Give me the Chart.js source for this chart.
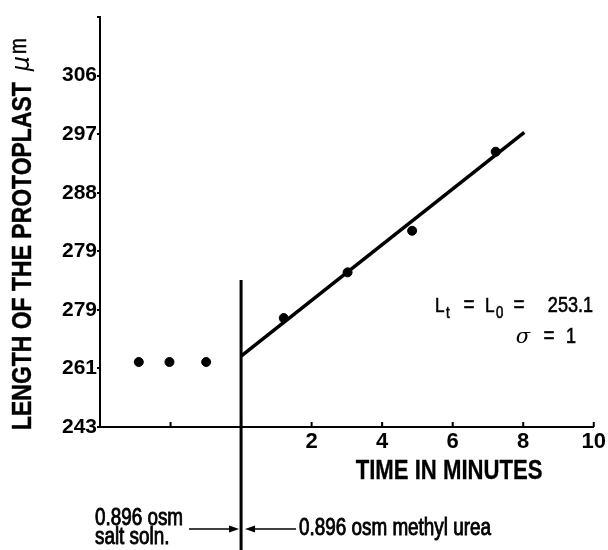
<!DOCTYPE html>
<html>
<head>
<meta charset="utf-8">
<script src="https://cdn.jsdelivr.net/npm/chart.js@4.4.1/dist/chart.umd.min.js"></script>
<style>
  html, body { margin: 0; padding: 0; background: #fff; }
  #wrap { width: 608px; height: 550px; }
</style>
</head>
<body>
<div id="wrap"><canvas id="chart" width="608" height="550"></canvas></div>
<script>
// tick labels of the original figure (evenly spaced, printed as-is)
const yTickLabels = ['243', '261', '279', '279', '288', '297', '306', ''];
const xTickValues = [-4, -2, 0, 2, 4, 6, 8, 10];
const xTickLabels = ['', '', '', '2', '4', '6', '8', '10'];

// values are in tick-step units of the y axis (0 = 243, 1 = 261, ...)
const saltTimes = [-2.9, -2.03, -0.99];
const saltLengths = [1.11, 1.11, 1.11];
const ureaTimes = [1.21, 3.02, 4.85, 7.22];
const ureaLengths = [1.86, 2.64, 3.35, 4.70];
const fitTimes = [0, 8.03];
const fitLengths = [1.21, 5.03];
const switchTimes = [0, 0];
const switchLengths = [2.51, -2.2];

const FONT = '"Liberation Sans", Arial, sans-serif';
const SQ = 0.82; // horizontal squeeze to mimic the narrow typeface

function pts(xs, ys) {
  return xs.map((x, i) => ({ x: x, y: ys[i] }));
}

// draw text squeezed horizontally, returns drawn width
function narrow(ctx, txt, x, y, font, align, heavy) {
  ctx.save();
  ctx.font = font;
  const w = ctx.measureText(txt).width * SQ;
  let left = x;
  if (align === 'center') left = x - w / 2;
  if (align === 'right') left = x - w;
  ctx.translate(left, y);
  ctx.scale(SQ, 1);
  ctx.textAlign = 'left';
  ctx.fillText(txt, 0, 0);
  if (heavy) {
    ctx.lineWidth = heavy;
    ctx.strokeText(txt, 0, 0);
  }
  ctx.restore();
  return w;
}

function arrow(ctx, x1, x2, y) {
  const dir = Math.sign(x2 - x1);
  ctx.beginPath();
  ctx.moveTo(x1, y);
  ctx.lineTo(x2 - dir * 8, y);
  ctx.stroke();
  ctx.beginPath();
  ctx.moveTo(x2, y);
  ctx.lineTo(x2 - dir * 10, y - 3.5);
  ctx.lineTo(x2 - dir * 10, y + 3.5);
  ctx.closePath();
  ctx.fill();
}

const extras = {
  id: 'extras',
  afterDraw(chart) {
    const ctx = chart.ctx;
    const xs = chart.scales.x;
    const ys = chart.scales.y;
    const axisY = ys.getPixelForValue(0);
    const x0 = xs.getPixelForValue(0);
    ctx.save();
    ctx.fillStyle = '#000';
    ctx.strokeStyle = '#000';

    // small inward ticks on the time axis
    ctx.lineWidth = 2;
    xTickValues.forEach(v => {
      if (v <= -4) return;
      const px = xs.getPixelForValue(v);
      ctx.beginPath();
      ctx.moveTo(px, axisY);
      ctx.lineTo(px, axisY - 5);
      ctx.stroke();
    });

    // y axis title, rotated
    ctx.save();
    ctx.translate(23, 430);
    ctx.rotate(-Math.PI / 2);
    ctx.textBaseline = 'middle';
    let w = narrow(ctx, 'LENGTH OF THE PROTOPLAST', 0, 0, 'bold 28px ' + FONT, 'left', 0.4) + 11;
    ctx.font = 'italic 24px "DejaVu Sans", sans-serif';
    ctx.fillText('\u03bc', w, 0);
    w += ctx.measureText('\u03bc').width + 2;
    narrow(ctx, 'm', w, -3, '23px ' + FONT, 'left', 0.5);
    ctx.restore();

    // x axis title
    ctx.textBaseline = 'middle';
    narrow(ctx, 'TIME IN MINUTES', xs.getPixelForValue(5.9), 472, 'bold 27px ' + FONT, 'center', 0.3);

    // equation
    ctx.textBaseline = 'alphabetic';
    const big = '21px ' + FONT;
    const sub = '16px ' + FONT;
    const eq = '23px ' + FONT;
    narrow(ctx, 'L', 435, 312, big, 'left', 0.6);
    narrow(ctx, 't', 446, 318, sub, 'left', 0.6);
    narrow(ctx, '=', 469, 312, eq, 'center', 0.6);
    narrow(ctx, 'L', 485, 312, big, 'left', 0.6);
    narrow(ctx, '0', 496, 318, sub, 'left', 0.6);
    narrow(ctx, '=', 519, 312, eq, 'center', 0.6);
    narrow(ctx, '253.1', 593, 312, '22px ' + FONT, 'right', 0.6);
    ctx.font = 'italic 21px "DejaVu Serif", serif';
    ctx.textAlign = 'center';
    ctx.fillText('\u03c3', 523, 343);
    narrow(ctx, '=', 549, 343, eq, 'center', 0.6);
    narrow(ctx, '1', 571, 343, '22px ' + FONT, 'center', 0.6);

    // solution labels with arrows
    ctx.textBaseline = 'middle';
    const small = '23px ' + FONT;
    narrow(ctx, '0.896 osm', 95, 519, small, 'left', 0.9);
    narrow(ctx, 'salt soln.', 95, 538, small, 'left', 0.9);
    narrow(ctx, '0.896 osm methyl urea', x0 + 58, 529, small, 'left', 0.9);
    ctx.lineWidth = 1.5;
    arrow(ctx, x0 - 52, x0 - 2, 529);
    arrow(ctx, x0 + 55, x0 + 4, 529);

    ctx.restore();
  }
};

new Chart(document.getElementById('chart'), {
  type: 'scatter',
  data: {
    datasets: [
      {
        data: pts(fitTimes, fitLengths),
        showLine: true,
        borderColor: '#000',
        borderWidth: 3.5,
        pointRadius: 0
      },
      {
        data: pts(switchTimes, switchLengths),
        showLine: true,
        borderColor: '#000',
        borderWidth: 3,
        pointRadius: 0,
        clip: false
      },
      {
        data: pts(saltTimes, saltLengths).concat(pts(ureaTimes, ureaLengths)),
        backgroundColor: '#000',
        borderColor: '#000',
        pointRadius: 4.5
      }
    ]
  },
  options: {
    responsive: false,
    animation: false,
    layout: { padding: { top: 17, right: 12, left: 0, bottom: 0 } },
    plugins: {
      legend: { display: false },
      tooltip: { enabled: false }
    },
    scales: {
      x: {
        type: 'linear',
        min: -4,
        max: 10,
        afterFit(scale) { scale.height = 123; },
        afterBuildTicks(scale) { scale.ticks = xTickValues.map(v => ({ value: v })); },
        grid: { display: false, drawTicks: false },
        border: { display: true, color: '#000', width: 2 },
        ticks: {
          padding: 2,
          color: '#000',
          font: { family: FONT, size: 22, weight: 'bold' },
          maxRotation: 0,
          autoSkip: false,
          callback: (v, i) => xTickLabels[i]
        }
      },
      y: {
        type: 'linear',
        min: 0,
        max: 7,
        afterFit(scale) { scale.width = 100; },
        afterBuildTicks(scale) { scale.ticks = yTickLabels.map((l, i) => ({ value: i })); },
        grid: { drawOnChartArea: false, drawTicks: true, tickLength: 3, color: '#000', lineWidth: 2 },
        border: { display: true, color: '#000', width: 2 },
        ticks: {
          padding: 0,
          color: '#000',
          font: { family: FONT, size: 21, weight: 'bold' },
          autoSkip: false,
          callback: (v, i) => yTickLabels[i]
        }
      }
    }
  },
  plugins: [extras]
});
</script>
</body>
</html>
